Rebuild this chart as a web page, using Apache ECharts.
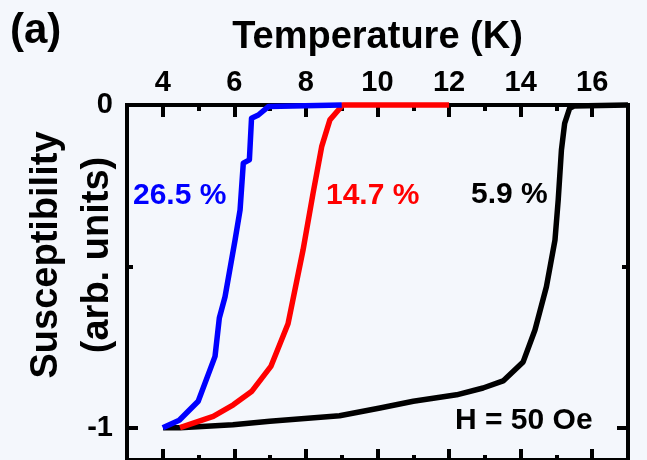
<!DOCTYPE html>
<html>
<head>
<meta charset="utf-8">
<script src="https://cdn.jsdelivr.net/npm/echarts@6/dist/echarts.min.js"></script>
<style>
  html, body { margin: 0; padding: 0; background: #f4f7fc; }
  #chart { width: 647px; height: 460px; }
</style>
</head>
<body>
<div id="chart"></div>
<script>
// Zero-field susceptibility vs temperature for three doping levels (H = 50 Oe)
const FONT = '"Liberation Sans", Arial, Helvetica, sans-serif';

// Axis ticks
const xMajorTicks = [4, 6, 8, 10, 12, 14, 16];
const xMinorTicks = [5, 7, 9, 11, 13, 15];
const yMajorTicks = [-1, 0];
const yMinorTicks = [-0.5];

// 26.5 % sample
const tempBlue = [4.00, 4.46, 4.99, 5.46, 5.58, 5.74, 6.02, 6.16, 6.25, 6.42, 6.48, 6.67, 6.95, 7.00, 9.00];
const chiBlue  = [-1.00, -0.977, -0.918, -0.779, -0.660, -0.594, -0.418, -0.325, -0.180, -0.170, -0.041, -0.031, -0.005, 0, 0];

// 14.7 % sample
const tempRed = [4.48, 5.41, 5.97, 6.48, 7.02, 7.50, 7.92, 8.20, 8.44, 8.67, 8.95, 9.03, 12.00];
const chiRed  = [-1.00, -0.965, -0.929, -0.888, -0.810, -0.678, -0.449, -0.273, -0.129, -0.046, -0.010, 0, 0];

// 5.9 % sample
const tempBlack = [4.01, 4.48, 5.96, 6.99, 8.94, 10.07, 11.00, 12.21, 12.95, 13.51, 14.07, 14.40, 14.72, 14.96, 15.05, 15.14, 15.23, 15.37, 15.49, 17.00];
const chiBlack  = [-1.00, -1.00, -0.991, -0.980, -0.963, -0.939, -0.918, -0.898, -0.877, -0.855, -0.796, -0.697, -0.563, -0.418, -0.294, -0.139, -0.057, -0.010, -0.003, 0];

const seriesNames = ['5.9 %', '14.7 %', '26.5 %'];
const seriesColors = ['#000000', '#ff0000', '#0000ff'];

const zip = (xs, ys) => xs.map((x, i) => [x, ys[i]]);
const seriesData = [zip(tempBlack, chiBlack), zip(tempRed, chiRed), zip(tempBlue, chiBlue)];

const X_MIN = 3, X_MAX = 17, Y_MIN = -1.1, Y_MAX = 0;
const AXIS_W = 4;
const gridRect = { left: 127, right: 19, top: 105, bottom: 0 };

function xAxisDef(gridIndex, position, ticks, tickLen, withLine, withLabels) {
  return {
    type: 'value', gridIndex, position, min: X_MIN, max: X_MAX,
    axisLine: { show: withLine, onZero: false, lineStyle: { color: '#000', width: AXIS_W, cap: 'square' } },
    axisTick: { show: true, inside: true, length: tickLen, customValues: ticks,
                lineStyle: { color: '#000', width: AXIS_W } },
    axisLabel: withLabels
      ? { show: true, customValues: ticks, margin: 8, color: '#000', fontSize: 29, fontWeight: 'bold', fontFamily: FONT }
      : { show: false },
    splitLine: { show: false }
  };
}

function yAxisDef(gridIndex, position, ticks, tickLen, withLine, withLabels) {
  return {
    type: 'value', gridIndex, position, min: Y_MIN, max: Y_MAX,
    axisLine: { show: withLine, onZero: false, lineStyle: { color: '#000', width: AXIS_W, cap: 'square' } },
    axisTick: { show: true, inside: true, length: tickLen, customValues: ticks,
                lineStyle: { color: '#000', width: AXIS_W } },
    axisLabel: withLabels
      ? { show: true, customValues: ticks, margin: 14, color: '#000', fontSize: 29, fontWeight: 'bold', fontFamily: FONT,
          formatter: v => (v === 0 ? '0' : String(v)) }
      : { show: false },
    splitLine: { show: false }
  };
}

const topAxis = xAxisDef(0, 'top', xMajorTicks, 12, true, true);
topAxis.name = 'Temperature (K)';
topAxis.nameLocation = 'middle';
topAxis.nameGap = 48;
topAxis.nameTextStyle = { color: '#000', fontSize: 38, fontWeight: 'bold', fontFamily: FONT };

const chart = echarts.init(document.getElementById('chart'), null, { renderer: 'canvas' });

chart.setOption({
  backgroundColor: '#f4f7fc',
  animation: false,
  grid: [Object.assign({}, gridRect), Object.assign({}, gridRect)],
  xAxis: [
    topAxis,
    xAxisDef(0, 'bottom', xMajorTicks, 11, true, false),
    xAxisDef(1, 'top', xMinorTicks, 6, false, false),
    xAxisDef(1, 'bottom', xMinorTicks, 5, false, false)
  ],
  yAxis: [
    yAxisDef(0, 'left', yMajorTicks, 11, true, true),
    yAxisDef(0, 'right', yMajorTicks, 11, true, false),
    yAxisDef(1, 'left', yMinorTicks, 6, false, false),
    yAxisDef(1, 'right', yMinorTicks, 6, false, false)
  ],
  series: seriesNames.map((name, i) => ({
    name, type: 'line', xAxisIndex: 0, yAxisIndex: 0,
    data: seriesData[i], showSymbol: false, symbol: 'none', clip: false,
    lineStyle: { color: seriesColors[i], width: 5.5, join: 'round' },
    z: 3 + i
  })),
  graphic: [
    { type: 'text', x: 72, y: 255, rotation: Math.PI / 2,
      style: { text: 'Susceptibility\n(arb. units)', fill: '#000', fontSize: 38, fontWeight: 'bold',
               fontFamily: FONT, align: 'center', verticalAlign: 'middle', lineHeight: 51 } },
    { type: 'text', x: 10, y: 31,
      style: { text: '(a)', fill: '#000', fontSize: 42, fontWeight: 'bold', fontFamily: FONT,
               align: 'left', verticalAlign: 'middle' } },
    { type: 'text', x: 133, y: 196,
      style: { text: '26.5 %', fill: '#0000ff', fontSize: 30, fontWeight: 'bold', fontFamily: FONT,
               align: 'left', verticalAlign: 'middle' } },
    { type: 'text', x: 326, y: 196,
      style: { text: '14.7 %', fill: '#ff0000', fontSize: 30, fontWeight: 'bold', fontFamily: FONT,
               align: 'left', verticalAlign: 'middle' } },
    { type: 'text', x: 471, y: 195,
      style: { text: '5.9 %', fill: '#000', fontSize: 30, fontWeight: 'bold', fontFamily: FONT,
               align: 'left', verticalAlign: 'middle' } },
    { type: 'text', x: 455, y: 421,
      style: { text: 'H = 50 Oe', fill: '#000', fontSize: 30, fontWeight: 'bold', fontFamily: FONT,
               align: 'left', verticalAlign: 'middle' } }
  ]
});
</script>
</body>
</html>
